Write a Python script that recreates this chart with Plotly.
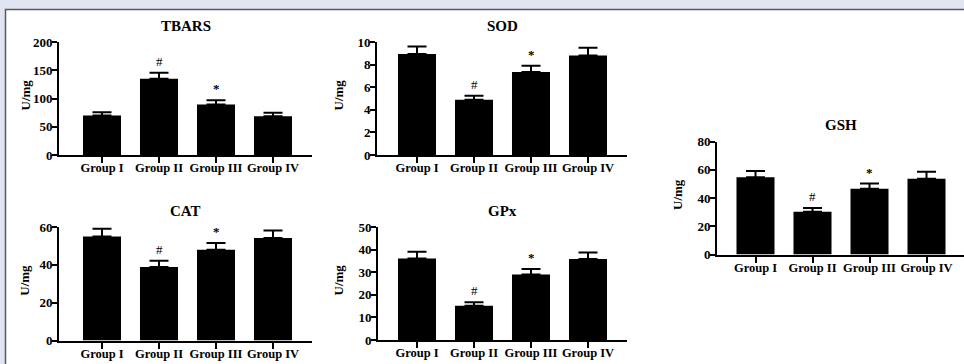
import plotly.graph_objects as go

# ---------------- data ----------------
groups = ["Group I", "Group II", "Group III", "Group IV"]
marks = ["", "#", "*", ""]

tbars_mean = [70.0, 135.0, 89.5, 68.5]
tbars_sem = [5.5, 10.5, 7.5, 6.5]

sod_mean = [8.93, 4.88, 7.34, 8.81]
sod_sem = [0.68, 0.36, 0.56, 0.68]

cat_mean = [55.0, 38.8, 48.0, 54.2]
cat_sem = [4.1, 3.4, 3.5, 4.0]

gpx_mean = [36.1, 15.2, 29.0, 35.8]
gpx_sem = [2.9, 1.5, 2.4, 2.9]

gsh_mean = [54.7, 30.3, 46.6, 53.7]
gsh_sem = [4.5, 2.6, 3.6, 4.8]

# ---------------- layout ----------------
W, H = 964, 364
STEP = 57.0  # px per category

def fx(px):
    return px / W

def fy(py):
    return 1 - py / H

panels = [
    dict(title="TBARS", mean=tbars_mean, sem=tbars_sem, ymax=200, dtick=50,
         px=(59, 312), py=(42, 155), c0=102, tx=25),
    dict(title="SOD", mean=sod_mean, sem=sod_sem, ymax=10, dtick=2,
         px=(377, 627), py=(42, 155), c0=417, tx=338),
    dict(title="CAT", mean=cat_mean, sem=cat_sem, ymax=60, dtick=20,
         px=(59, 312), py=(227, 340.5), c0=102, tx=25),
    dict(title="GPx", mean=gpx_mean, sem=gpx_sem, ymax=50, dtick=10,
         px=(378, 627), py=(227, 340), c0=417, tx=338),
    dict(title="GSH", mean=gsh_mean, sem=gsh_sem, ymax=80, dtick=20,
         px=(717, 964), py=(141.5, 254.5), c0=755.5, tx=677),
]

SERIF = "Liberation Serif, Times New Roman, serif"
BOLD = dict(family=SERIF, size=12.5, color="black", weight="bold")
YBOLD = dict(family=SERIF, size=13, color="black", weight="bold")

fig = go.Figure()
layout = dict(
    width=W, height=H, autosize=False,
    margin=dict(l=0, r=0, t=0, b=0, pad=0),
    paper_bgcolor="#e1e5f2", plot_bgcolor="rgba(0,0,0,0)",
    showlegend=False,
    shapes=[dict(type="rect", xref="paper", yref="paper",
                 x0=fx(5.5), x1=fx(975), y0=fy(380), y1=fy(9.5),
                 fillcolor="white", line=dict(color="#5a5a5a", width=1.5),
                 layer="below")],
    annotations=[],
)

for i, p in enumerate(panels):
    k = "" if i == 0 else str(i + 1)
    xa, ya = "x" + k, "y" + k
    fig.add_trace(go.Bar(
        x=groups, y=p["mean"], xaxis=xa, yaxis=ya, width=0.667,
        marker=dict(color="black", line=dict(width=0)),
        error_y=dict(type="data", array=p["sem"], arrayminus=[0] * len(p["sem"]),
                     symmetric=False, color="black", thickness=2, width=9.5),
        hoverinfo="skip",
    ))
    x0 = (p["px"][0] - p["c0"]) / STEP
    x1 = (p["px"][1] - p["c0"]) / STEP
    layout["xaxis" + k] = dict(
        domain=[fx(p["px"][0]), fx(p["px"][1])], anchor=ya,
        range=[x0, x1], type="category", automargin=False,
        showline=True, linecolor="black", linewidth=2,
        ticks="outside", ticklen=6, tickwidth=2, tickcolor="black",
        ticklabelstandoff=-6,
        showgrid=False, zeroline=False, tickfont=BOLD, fixedrange=True,
    )
    layout["yaxis" + k] = dict(
        domain=[fy(p["py"][1]), fy(p["py"][0])], anchor=xa,
        range=[0, p["ymax"]], dtick=p["dtick"], tick0=0, automargin=False,
        showline=True, linecolor="black", linewidth=2,
        ticks="outside", ticklen=5, tickwidth=2, tickcolor="black",
        ticklabelstandoff=-3,
        showgrid=False, zeroline=False, tickfont=YBOLD, fixedrange=True,
    )
    # panel title
    layout["annotations"].append(dict(
        text=p["title"], xref="paper", yref="paper",
        x=fx((p["px"][0] + p["px"][1]) / 2), y=fy(p["py"][0]),
        xanchor="center", yanchor="bottom", yshift=6, showarrow=False,
        font=dict(family=SERIF, size=15, color="black", weight="bold")))
    # y title
    layout["annotations"].append(dict(
        text="U/mg", xref="paper", yref="paper", textangle=-90,
        x=fx(p["tx"]), y=fy((p["py"][0] + p["py"][1]) / 2 - 3),
        xanchor="center", yanchor="middle", showarrow=False, font=YBOLD))
    # significance marks
    for g, m, v, s in zip(groups, marks, p["mean"], p["sem"]):
        if m:
            layout["annotations"].append(dict(
                text=m, xref=xa, yref=ya, x=g, y=v + s,
                xanchor="center", yanchor="bottom", yshift=2, showarrow=False,
                font=dict(family=SERIF, size=13, color="black",
                          weight="bold" if m == "*" else "normal")))

fig.update_layout(**layout)
fig.write_html(
    "out.html",
    config={"displayModeBar": False, "staticPlot": True},
    post_script="document.body.style.margin='0';document.body.style.overflow='hidden';",
)
